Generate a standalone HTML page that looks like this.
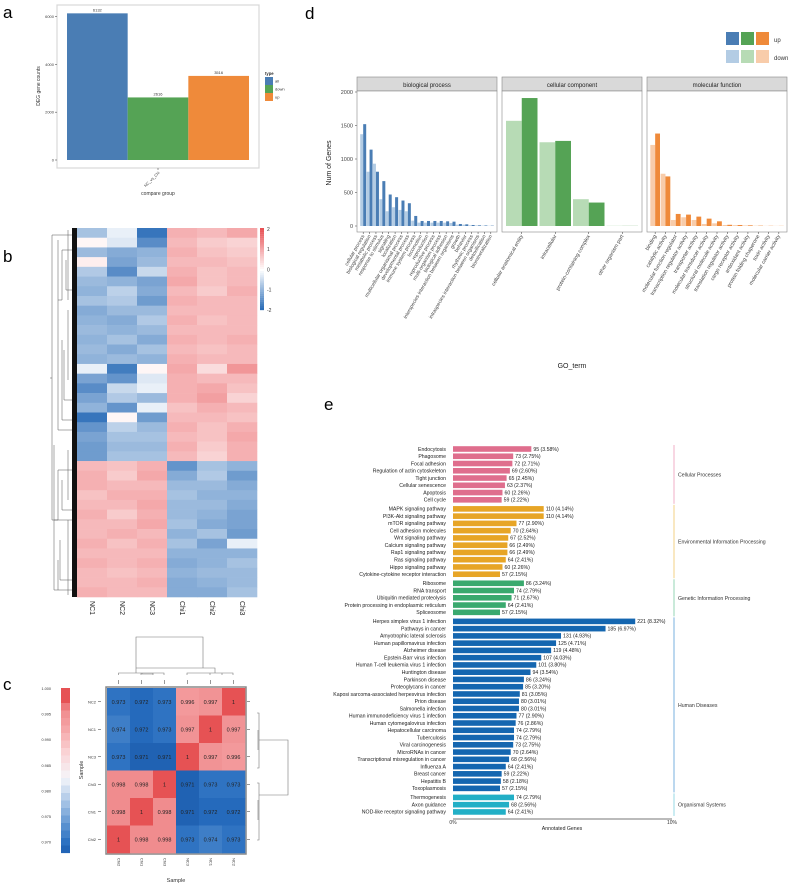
<!DOCTYPE html>
<html><head><meta charset="utf-8"><style>
body{margin:0;background:#fff}
svg{display:block;font-family:"Liberation Sans",sans-serif}
</style></head><body>
<svg id="fig" width="793" height="885" viewBox="0 0 793 885" xmlns="http://www.w3.org/2000/svg"></svg>
<script>
// ---------- Panel a data ----------
const aCats=["all","down","up"];
const aVals=[6132,2616,3516];
const aTicks=[0,2000,4000,6000];
// ---------- Panel b data (z-scores, NC1..Chi3) ----------
const bCols=["NC1","NC2","NC3","Chi1","Chi2","Chi3"];
const bRows=[
[-0.8,-0.2,-1.8,0.9,0.8,1.0],[0.1,-0.3,-1.5,0.8,0.6,0.5],[-0.9,-1.1,-1.0,0.9,0.7,0.6],[0.2,-1.2,-0.9,0.8,0.8,0.7],
[-0.7,-1.5,-0.5,0.9,0.7,0.8],[-0.9,-1.0,-1.2,1.0,0.7,0.8],[-1.0,-0.6,-1.1,0.8,0.6,0.9],[-0.8,-0.7,-1.3,0.9,0.8,0.8],
[-1.1,-0.9,-0.9,0.8,0.8,0.8],[-1.0,-1.1,-0.7,0.9,0.7,0.8],[-0.9,-1.0,-0.9,0.8,0.8,0.8],[-1.0,-0.8,-1.1,0.9,0.8,0.9],
[-0.9,-1.1,-0.8,0.8,0.7,0.8],[-1.0,-0.9,-1.0,0.9,0.8,0.8],[-0.2,-1.7,0.1,1.0,0.4,1.2],[-1.2,-1.4,-0.3,0.9,0.8,0.8],
[-1.5,-0.5,-0.2,0.9,1.0,0.7],[-1.2,-0.7,-0.9,0.9,1.1,0.5],[-1.0,-1.4,-0.2,0.7,0.9,0.8],[-1.8,0.1,-1.3,0.8,0.8,0.7],
[-1.4,-0.6,-0.9,0.9,0.7,0.9],[-1.2,-0.8,-0.8,0.8,0.7,1.0],[-1.3,-0.9,-0.9,0.9,0.6,0.9],[-1.3,-0.8,-0.8,0.8,0.5,0.9],
[0.8,0.7,0.9,-1.4,-0.8,-1.0],[0.9,0.6,1.0,-1.1,-0.7,-1.3],[0.9,0.8,0.8,-0.9,-0.9,-1.1],[0.7,0.9,0.9,-0.8,-1.0,-1.0],
[0.8,0.8,1.0,-0.9,-0.9,-1.1],[0.9,0.6,0.9,-0.9,-1.0,-1.2],[0.8,0.8,1.0,-0.8,-1.1,-1.2],[0.8,0.9,0.8,-1.0,-0.8,-1.3],
[0.9,0.7,0.9,-0.8,-1.2,-0.2],[0.8,0.8,0.8,-1.0,-1.0,-1.0],[0.9,0.8,0.9,-1.1,-1.0,-0.8],[0.8,0.7,0.8,-1.0,-0.9,-0.9],
[0.8,0.8,0.9,-1.1,-1.0,-0.9],[0.9,0.8,0.8,-1.1,-1.1,-0.8]];
const bTicks=[2,1,0,-1,-2];
// ---------- Panel c data ----------
const cRowLabels=["NC2","NC1","NC3","Chi3","Chi1","Chi2"];
const cColLabels=["Chi2","Chi1","Chi3","NC3","NC1","NC2"];
const cVals=[
[0.973,0.972,0.973,0.996,0.997,1],
[0.974,0.972,0.973,0.997,1,0.997],
[0.973,0.971,0.971,1,0.997,0.996],
[0.998,0.998,1,0.971,0.973,0.973],
[0.998,1,0.998,0.971,0.972,0.972],
[1,0.998,0.998,0.973,0.974,0.973]];
const cTicks=[1.000,0.995,0.990,0.985,0.980,0.975,0.970];
// ---------- Panel d data ----------
const dTicks=[0,500,1000,1500,2000];
const bpCats=["cellular process","biological regulation","metabolic process","response to stimulus","signaling","localization","multicellular organismal process","developmental process","immune system process","locomotion","reproduction","reproductive process","multi-organism process","biological adhesion","interspecies interaction between organisms","growth","behavior","rhythmic process","intraspecies interaction between organisms","detoxification","biomineralization"];
const bpDown=[1370,810,930,400,220,280,240,220,80,50,50,50,50,50,45,20,20,10,8,5,3];
const bpUp=[1520,1140,810,670,470,430,380,340,150,75,75,75,75,70,65,30,25,15,10,8,5];
const ccCats=["cellular anatomical entity","intracellular","protein-containing complex","other organism part"];
const ccDown=[1570,1250,400,3];
const ccUp=[1910,1270,350,2];
const mfCats=["binding","catalytic activity","molecular function regulator","transcription regulator activity","transporter activity","molecular transducer activity","structural molecule activity","translation regulator activity","cargo receptor activity","antioxidant activity","protein folding chaperone","toxin activity","molecular carrier activity"];
const mfDown=[1210,780,90,130,90,30,40,15,12,8,4,2,2];
const mfUp=[1380,740,180,170,140,110,70,18,15,10,5,3,2];
// ---------- Panel e data ----------
const eGroups=["Cellular Processes","Environmental Information Processing","Genetic Information Processing","Human Diseases","Organismal Systems"];
const eTerms=[
["Endocytosis","Phagosome","Focal adhesion","Regulation of actin cytoskeleton","Tight junction","Cellular senescence","Apoptosis","Cell cycle"],
["MAPK signaling pathway","PI3K-Akt signaling pathway","mTOR signaling pathway","Cell adhesion molecules","Wnt signaling pathway","Calcium signaling pathway","Rap1 signaling pathway","Ras signaling pathway","Hippo signaling pathway","Cytokine-cytokine receptor interaction"],
["Ribosome","RNA transport","Ubiquitin mediated proteolysis","Protein processing in endoplasmic reticulum","Spliceosome"],
["Herpes simplex virus 1 infection","Pathways in cancer","Amyotrophic lateral sclerosis","Human papillomavirus infection","Alzheimer disease","Epstein-Barr virus infection","Human T-cell leukemia virus 1 infection","Huntington disease","Parkinson disease","Proteoglycans in cancer","Kaposi sarcoma-associated herpesvirus infection","Prion disease","Salmonella infection","Human immunodeficiency virus 1 infection","Human cytomegalovirus infection","Hepatocellular carcinoma","Tuberculosis","Viral carcinogenesis","MicroRNAs in cancer","Transcriptional misregulation in cancer","Influenza A","Breast cancer","Hepatitis B","Toxoplasmosis"],
["Thermogenesis","Axon guidance","NOD-like receptor signaling pathway"]];
const eCounts=[
[95,73,72,69,65,63,60,59],
[110,110,77,70,67,66,66,64,60,57],
[86,74,71,64,57],
[221,185,131,125,119,107,101,94,86,85,81,80,80,77,76,74,74,73,70,68,64,59,58,57],
[74,68,64]];
const ePct=[
["3.58","2.75","2.71","2.60","2.45","2.37","2.26","2.22"],
["4.14","4.14","2.90","2.64","2.52","2.49","2.49","2.41","2.26","2.15"],
["3.24","2.79","2.67","2.41","2.15"],
["8.32","6.97","4.93","4.71","4.48","4.03","3.80","3.54","3.24","3.20","3.05","3.01","3.01","2.90","2.86","2.79","2.79","2.75","2.64","2.56","2.41","2.22","2.18","2.15"],
["2.79","2.56","2.41"]];
const eTotal=2656;

const NS="http://www.w3.org/2000/svg";
const svg=document.getElementById('fig');
function mk(tag,attrs,parent,txt){const e=document.createElementNS(NS,tag);for(const k in attrs)e.setAttribute(k,attrs[k]);if(txt!==undefined)e.textContent=txt;(parent||svg).appendChild(e);return e;}
function grp(name){const g=mk('g',{});return g;}

// panel letters
[["a",3,18],["b",3,262],["c",3,690],["d",305,19],["e",324,410]].forEach(l=>{const t=mk('text',{x:l[1],y:l[2],'font-size':17},svg,l[0]);});

// ===== Panel a =====
(function(){
const g=grp('panel-a-bar-chart');
const x0=57,x1=259,yT=5,yB=168;
mk('rect',{x:x0,y:yT,width:x1-x0,height:yB-yT,fill:'#fff',stroke:'#d8d8d8','stroke-width':1.2},g);
const ya=v=>160-v*(160-16.5)/6000;
const cols=['#4a7db4','#55a355','#ef8a3a'];
aTicks.forEach(t=>{mk('line',{x1:x0-2,x2:x0,y1:ya(t),y2:ya(t),stroke:'#333','stroke-width':0.5},g);const tx=mk('text',{x:x0-3,y:ya(t)+1.5,'font-size':4,'text-anchor':'end',fill:'#444'},g,t);});
const bw=(249-67)/3;
aVals.forEach((v,i)=>{const r=mk('rect',{x:67+i*bw,y:ya(v),width:bw,height:ya(0)-ya(v),fill:cols[i]},g);
const t=mk('text',{x:67+i*bw+bw/2,y:ya(v)-2,'font-size':4,'text-anchor':'middle',fill:'#333'},g,v);});
const yl=mk('text',{transform:'translate(40,86) rotate(-90)','font-size':5,'text-anchor':'middle',fill:'#333'},g,'DEG gene counts');
mk('line',{x1:158,x2:158,y1:168,y2:170,stroke:'#333','stroke-width':0.5},g);
mk('text',{transform:'translate(160,173) rotate(-45)','font-size':4,'text-anchor':'end',fill:'#444'},g,'NC_vs_Chi');
const xl=mk('text',{x:158,y:195,'font-size':5,'text-anchor':'middle',fill:'#333'},g,'compare group');
mk('text',{x:265,y:75,'font-size':4.2,'font-weight':'bold',fill:'#333'},g,'type');
aCats.forEach((c,i)=>{const r=mk('rect',{x:265,y:77+i*8,width:8,height:8,fill:cols[i]},g);mk('text',{x:275,y:82.5+i*8,'font-size':4,fill:'#333'},g,c);});
})();

// ===== Panel b =====
(function(){
const g=grp('panel-b-heatmap');
const x0=77,w=30,yT=228,yB=597;
function col(z){z=Math.max(-2,Math.min(2,z));let t=Math.abs(z)/2;const c=z>=0?[232,80,84]:[33,102,180];return `rgb(${Math.round(255+(c[0]-255)*t)},${Math.round(255+(c[1]-255)*t)},${Math.round(255+(c[2]-255)*t)})`;}
const rh=(yB-yT)/bRows.length;
bRows.forEach((row,ri)=>row.forEach((z,ci)=>{const r=mk('rect',{x:x0+ci*w,y:yT+ri*rh,width:w+0.3,height:rh+0.3,fill:col(z)},g);}));
const d=grp('b-row-dendrogram');g.appendChild(d);
mk('rect',{x:72,y:yT,width:5,height:yB-yT,fill:'#111'},d);
const P=(p)=>mk('path',{d:p,fill:'none',stroke:'#555','stroke-width':0.5},d);
P('M72 235 H52 V520 H72 M52 378 H50 M58 240 V430 H72 M58 300 H62 V250 H72 M62 340 V420 H72 M54 445 V590 H72 M54 520 H58 V470 H72 M58 560 V590 M62 480 V510 H72 M64 350 V400 H72 M66 260 V290 H72 M60 540 V580 H72 M68 230 V300 M68 310 V380 M68 450 V500 M68 520 V595');
bCols.forEach((c,i)=>{const t=mk('text',{transform:`translate(${x0+i*w+w/2-2},601) rotate(90)`,'font-size':7,fill:'#222'},g,c);});
const cb=grp('b-colorbar');g.appendChild(cb);
for(let i=0;i<40;i++){const z=2-i*4/40;mk('rect',{x:260,y:228+i*2.05,width:4,height:2.2,fill:col(z)},cb);}
bTicks.forEach((t,i)=>mk('text',{x:267,y:231+i*20.2,'font-size':5,fill:'#333'},cb,t));
})();

// ===== Panel c =====
(function(){
const g=grp('panel-c-correlation-heatmap');
const x0=107,y0=688,cw=23,ch=27.5;
const stops=[[0.970,[27,90,170]],[0.9725,[40,110,192]],[0.975,[76,136,204]],[0.980,[160,192,228]],[0.985,[245,245,250]],[0.990,[250,210,212]],[0.995,[244,160,162]],[0.998,[240,140,142]],[1.0,[230,82,84]]];
function col(v){for(let i=0;i<stops.length-1;i++){const a=stops[i],b=stops[i+1];if(v<=b[0]||i===stops.length-2){let t=Math.max(0,Math.min(1,(v-a[0])/(b[0]-a[0])));return `rgb(${a[1].map((c,k)=>Math.round(c+(b[1][k]-c)*t)).join(',')})`;}}}
mk('rect',{x:x0-1,y:y0-1,width:cw*6+2,height:ch*6+2,fill:'none',stroke:'#888','stroke-width':1.5},g);
cVals.forEach((row,ri)=>row.forEach((v,ci)=>{const r=mk('rect',{x:x0+ci*cw,y:y0+ri*ch,width:cw+0.3,height:ch+0.3,fill:col(v)},g);
mk('text',{x:x0+ci*cw+cw/2,y:y0+ri*ch+ch/2+2,'font-size':5.5,'text-anchor':'middle',fill:'#222'},g,v===1?'1':v.toFixed(3));}));
cRowLabels.forEach((l,i)=>{mk('text',{x:x0-11,y:y0+i*ch+ch/2+1.5,'font-size':4,'text-anchor':'end',fill:'#333'},g,l);mk('line',{x1:x0-9,x2:x0-6,y1:y0+i*ch+ch/2,y2:y0+i*ch+ch/2,stroke:'#333','stroke-width':0.5},g);
mk('line',{x1:x0+6*cw+2,x2:x0+6*cw+5,y1:y0+i*ch+ch/2,y2:y0+i*ch+ch/2,stroke:'#333','stroke-width':0.5},g);});
cColLabels.forEach((l,i)=>{mk('text',{transform:`translate(${x0+i*cw+cw/2-1},858) rotate(90)`,'font-size':4,fill:'#333'},g,l);mk('line',{x1:x0+i*cw+cw/2,x2:x0+i*cw+cw/2,y1:y0-8,y2:y0-4,stroke:'#333','stroke-width':0.5},g);});
mk('text',{x:176,y:882,'font-size':5.5,'text-anchor':'middle',fill:'#333'},g,'Sample');
mk('text',{transform:'translate(83,770) rotate(-90)','font-size':5.5,'text-anchor':'middle',fill:'#333'},g,'Sample');
const D=(p)=>mk('path',{d:p,fill:'none',stroke:'#777','stroke-width':0.6},g);
D('M118.5 675 V673 H164 V675 M141 673 V675 M153 673 V675 M142 673 V674 H153 M187 675 V673 H233 V675 M210 673 V675 M222 673 V675 M136 673 V668 H215 V673 M136 668 V637 H203 V668');
D('M257 713 H259 V768 H257 M259 740 H288 V795 H259 M257 783 H259 V840 H257 M258 730 V750 M258 800 V820');
const cb=grp('c-colorbar');g.appendChild(cb);
for(let i=0;i<22;i++){const v=1.0015-i*0.0315/22;mk('rect',{x:61,y:688+i*7.5,width:9,height:7.6,fill:col(v)},cb);}
cTicks.forEach((t,i)=>mk('text',{x:51,y:690+i*25.6,'font-size':3.8,'text-anchor':'end',fill:'#333'},cb,t.toFixed(3)));
})();

// ===== Panel d =====
(function(){
const g=grp('panel-d-go-bar-chart');
const yTop=91,yB=232,y0=226,ys=v=>y0-v*(226-92)/2000;
const panels=[[357,497,"biological process",bpCats,bpDown,bpUp,'#4a7db4','#b3cce4'],[502,642,"cellular component",ccCats,ccDown,ccUp,'#55a355','#b7dbb5'],[647,787,"molecular function",mfCats,mfDown,mfUp,'#ef8a3a','#f8ccaa']];
dTicks.forEach(t=>{mk('line',{x1:355,x2:357,y1:ys(t),y2:ys(t),stroke:'#333','stroke-width':0.5},g);mk('text',{x:353,y:ys(t)+2,'font-size':5.5,'text-anchor':'end',fill:'#444'},g,t);});
mk('text',{transform:'translate(331,163) rotate(-90)','font-size':7,'text-anchor':'middle',fill:'#222'},g,'Num of Genes');
panels.forEach(([a,b,title,cats,dn,up,cu,cd])=>{
 const strip=mk('rect',{x:a,y:77,width:b-a,height:14,fill:'#d9d9d9',stroke:'#888','stroke-width':0.6},g);
 
 mk('text',{x:(a+b)/2,y:87,'font-size':6,'text-anchor':'middle',fill:'#222'},g,title);
 mk('rect',{x:a,y:yTop,width:b-a,height:yB-yTop,fill:'#fff',stroke:'#888','stroke-width':0.6},g);
 const n=cats.length,step=(b-a-6)/n,bw=step*0.47;
 cats.forEach((c,i)=>{const cx=a+3+step*i+step/2;
  const r1=mk('rect',{x:cx-bw,y:ys(dn[i]),width:bw,height:y0-ys(dn[i]),fill:cd},g);
  const r2=mk('rect',{x:cx,y:ys(up[i]),width:bw,height:y0-ys(up[i]),fill:cu},g);
  mk('line',{x1:cx,x2:cx,y1:yB,y2:yB+2,stroke:'#333','stroke-width':0.5},g);
  const t=mk('text',{transform:`translate(${cx+1.5},${yB+4}) rotate(-60)`,'font-size':n>15?5:5.3,'text-anchor':'end',fill:'#444'},g,c);
 });
});
const gt=mk('text',{x:572,y:368,'font-size':7,'text-anchor':'middle',fill:'#222'},g,'GO_term');
const lg=grp('d-legend');g.appendChild(lg);
[['#4a7db4','#b3cce4'],['#55a355','#b7dbb5'],['#ef8a3a','#f8ccaa']].forEach((c,i)=>{mk('rect',{x:726+i*15,y:32,width:13,height:13,fill:c[0]},lg);mk('rect',{x:726+i*15,y:50,width:13,height:13,fill:c[1]},lg);});
mk('text',{x:774,y:42,'font-size':6,fill:'#333'},lg,'up');mk('text',{x:774,y:60,'font-size':6,fill:'#333'},lg,'down');
})();

// ===== Panel e =====
(function(){
const g=grp('panel-e-kegg-bar-chart');
const x0=453,xs=p=>x0+p*21.9,s=7.26,gap=1.8;
const cols=['#df6e8d','#e7a526','#3aa96e','#1466b0','#22afc6'];
const bcols=['#f2bcd0','#f5d89a','#a6dcc0','#90bde4','#a8e0ea'];
let y=449;
eTerms.forEach((terms,gi)=>{const yStart=y;
 terms.forEach((t,i)=>{const p=eCounts[gi][i]/eTotal*100;
  const lab=mk('text',{x:446,y:y+1.8,'font-size':5.2,'text-anchor':'end',fill:'#222'},g,t);
  const r=mk('rect',{x:x0,y:y-2.8,width:xs(p)-x0,height:5.6,fill:cols[gi]},g);
  mk('text',{x:xs(p)+2,y:y+1.8,'font-size':5.2,fill:'#222'},g,`${eCounts[gi][i]} (${ePct[gi][i]}%)`);
  y+=s;});
 const yEnd=y-s;
 mk('line',{x1:674,x2:674,y1:yStart-4,y2:yEnd+4,stroke:bcols[gi],'stroke-width':1.2},g);
 const gl=mk('text',{x:678,y:(yStart+yEnd)/2+2,'font-size':5.2,fill:'#333'},g,eGroups[gi]);
 y+=gap;});
mk('line',{x1:x0,x2:xs(10),y1:819,y2:819,stroke:'#777','stroke-width':1},g);
mk('text',{x:x0,y:824,'font-size':5,'text-anchor':'middle',fill:'#333'},g,'0%');
mk('text',{x:xs(10),y:824,'font-size':5,'text-anchor':'middle',fill:'#333'},g,'10%');
const at=mk('text',{x:562,y:830,'font-size':5.2,'text-anchor':'middle',fill:'#222'},g,'Annotated Genes');
})();
</script>
</body></html>
